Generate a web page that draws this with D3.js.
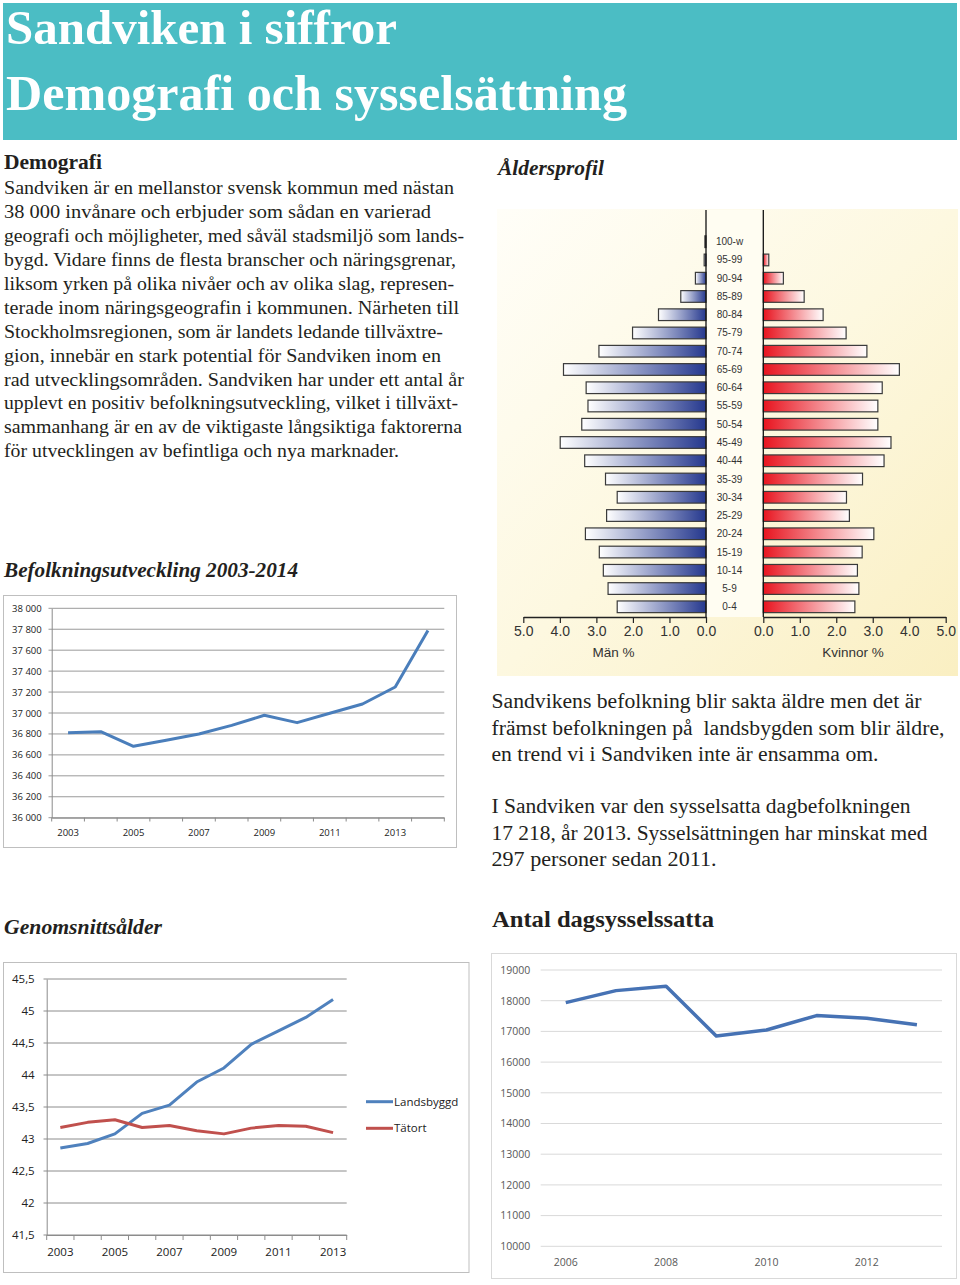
<!DOCTYPE html>
<html><head><meta charset="utf-8">
<script src="https://cdn.jsdelivr.net/npm/d3@7"></script>
<style>body{margin:0;background:#fff}svg{display:block}</style>
</head><body><svg id="c" width="960" height="1285"></svg>
<script>
// ---------- DATA ----------
const ageGroups = ["100-w","95-99","90-94","85-89","80-84","75-79","70-74","65-69","60-64","55-59","50-54","45-49","40-44","35-39","30-34","25-29","20-24","15-19","10-14","5-9","0-4"];
const menPct   = [0.03,0.05,0.29,0.69,1.30,2.01,2.93,3.90,3.28,3.23,3.40,3.99,3.32,2.75,2.43,2.72,3.30,2.92,2.81,2.68,2.43];
const womenPct = [0.00,0.15,0.55,1.12,1.64,2.27,2.84,3.73,3.26,3.14,3.14,3.50,3.31,2.72,2.28,2.36,3.03,2.71,2.58,2.62,2.51];
const pyramidTicks = [0,1,2,3,4,5];

const popYears  = ["2003","2004","2005","2006","2007","2008","2009","2010","2011","2012","2013","2014"];
const popValues = [36812,36822,36682,36740,36799,36882,36978,36908,36997,37086,37248,37787];
const popTicks  = [36000,36200,36400,36600,36800,37000,37200,37400,37600,37800,38000];
const popLabelYears = ["2003","2005","2007","2009","2011","2013"];

const ageYears   = ["2003","2004","2005","2006","2007","2008","2009","2010","2011","2012","2013"];
const landsbyggd = [42.86,42.93,43.08,43.40,43.53,43.89,44.11,44.48,44.69,44.90,45.18];
const tatort     = [43.18,43.26,43.30,43.18,43.21,43.13,43.08,43.17,43.21,43.20,43.10];
const ageTicks   = [41.5,42,42.5,43,43.5,44,44.5,45,45.5];
const ageLabelYears = ["2003","2005","2007","2009","2011","2013"];
const ageSeriesNames = ["Landsbyggd","Tätort"];

const jobYears  = ["2006","2007","2008","2009","2010","2011","2012","2013"];
const jobValues = [17937,18328,18469,16851,17047,17515,17427,17218];
const jobTicks  = [10000,11000,12000,13000,14000,15000,16000,17000,18000,19000];
const jobLabelYears = ["2006","2008","2010","2012"];

const leftParagraph = [
 "Sandviken är en mellanstor svensk kommun med nästan",
 "38 000 invånare och erbjuder som sådan en varierad",
 "geografi och möjligheter, med såväl stadsmiljö som lands-",
 "bygd. Vidare finns de flesta branscher och näringsgrenar,",
 "liksom yrken på olika nivåer och av olika slag, represen-",
 "terade inom näringsgeografin i kommunen. Närheten till",
 "Stockholmsregionen, som är landets ledande tillväxtre-",
 "gion, innebär en stark potential för Sandviken inom en",
 "rad utvecklingsområden. Sandviken har under ett antal år",
 "upplevt en positiv befolkningsutveckling, vilket i tillväxt-",
 "sammanhang är en av de viktigaste långsiktiga faktorerna",
 "för utvecklingen av befintliga och nya marknader."
];
const leftWidths = [450,427,460,452,450,455,439,437,460,454,458,395];
const rightPara1 = ["Sandvikens befolkning blir sakta äldre men det är","främst befolkningen på  landsbygden som blir äldre,","en trend vi i Sandviken inte är ensamma om."];
const rightPara1W = [430,453,387];
const rightPara2 = ["I Sandviken var den sysselsatta dagbefolkningen","17 218, år 2013. Sysselsättningen har minskat med","297 personer sedan 2011."];
const rightPara2W = [419,436,225];

// ---------- SETUP ----------
const svg = d3.select("#c");
const serif = "'Liberation Serif','DejaVu Serif',serif";
const sans = "'Open Sans','Liberation Sans',sans-serif";
const arial = "'Liberation Sans',Arial,sans-serif";
const txtCol = "#231f20";
const sv = d3.formatLocale({decimal:",",thousands:" ",grouping:[3],currency:["","kr"]});

svg.append("rect").attr("width",960).attr("height",1285).attr("fill","#fff");

// Header
svg.append("rect").attr("x",3).attr("y",3).attr("width",954).attr("height",137).attr("fill","#4bbdc4");
svg.append("text").attr("x",6).attr("y",44).attr("font-family",serif).attr("font-weight","bold")
  .attr("font-size",48).attr("fill","#fff").attr("textLength",391).attr("lengthAdjust","spacingAndGlyphs").text("Sandviken i siffror");
svg.append("text").attr("x",6).attr("y",110).attr("font-family",serif).attr("font-weight","bold")
  .attr("font-size",50).attr("fill","#fff").attr("textLength",621).attr("lengthAdjust","spacingAndGlyphs").text("Demografi och sysselsättning");

// Left text
svg.append("text").attr("x",4).attr("y",169).attr("font-family",serif).attr("font-weight","bold")
  .attr("font-size",21).attr("fill",txtCol).attr("textLength",98).attr("lengthAdjust","spacingAndGlyphs").text("Demografi");
svg.append("g").selectAll("text").data(leftParagraph).join("text")
  .attr("x",4).attr("y",(d,i)=>194.3+i*23.9).attr("font-family",serif).attr("font-size",19.5).attr("fill",txtCol)
  .attr("textLength",(d,i)=>leftWidths[i]).attr("lengthAdjust","spacingAndGlyphs").text(d=>d);

// Right text
svg.append("g").selectAll("text").data(rightPara1).join("text")
  .attr("x",491.5).attr("y",(d,i)=>708.3+i*26.2).attr("font-family",serif).attr("font-size",20.5).attr("fill",txtCol)
  .attr("textLength",(d,i)=>rightPara1W[i]).attr("lengthAdjust","spacingAndGlyphs").style("white-space","pre").text(d=>d);
svg.append("g").selectAll("text").data(rightPara2).join("text")
  .attr("x",491.5).attr("y",(d,i)=>813.3+i*26.2).attr("font-family",serif).attr("font-size",20.5).attr("fill",txtCol)
  .attr("textLength",(d,i)=>rightPara2W[i]).attr("lengthAdjust","spacingAndGlyphs").text(d=>d);

// Section titles
function title(x,y,w,t,italic,size){
  svg.append("text").attr("x",x).attr("y",y).attr("font-family",serif).attr("font-weight","bold")
   .attr("font-style",italic?"italic":"normal").attr("font-size",size).attr("fill",txtCol)
   .attr("textLength",w).attr("lengthAdjust","spacingAndGlyphs").text(t);
}
title(498,175,106,"Åldersprofil",true,22);
title(4,577,294,"Befolkningsutveckling 2003-2014",true,21);
title(4,934,158,"Genomsnittsålder",true,21);
title(492,927,222,"Antal dagsysselssatta",false,23.5);

// ---------- PYRAMID ----------
const defs = svg.append("defs");
const bg = defs.append("linearGradient").attr("id","pbg").attr("x1",0).attr("y1",0).attr("x2",1).attr("y2",1);
bg.append("stop").attr("offset",0).attr("stop-color","#fffef8");
bg.append("stop").attr("offset",0.5).attr("stop-color","#fdf8e0");
bg.append("stop").attr("offset",1).attr("stop-color","#faefc2");
const mg = defs.append("linearGradient").attr("id","menG").attr("x1",0).attr("x2",1).attr("y1",0).attr("y2",0);
mg.append("stop").attr("offset",0).attr("stop-color","#ffffff");
mg.append("stop").attr("offset",1).attr("stop-color","#25388e");
const wg = defs.append("linearGradient").attr("id","womG").attr("x1",0).attr("x2",1).attr("y1",0).attr("y2",0);
wg.append("stop").attr("offset",0).attr("stop-color","#e8141f");
wg.append("stop").attr("offset",1).attr("stop-color","#ffffff");

svg.append("rect").attr("x",497).attr("y",209).attr("width",461).attr("height",467).attr("fill","url(#pbg)");
svg.append("rect").attr("x",706).attr("y",210).attr("width",57.3).attr("height",407).attr("fill","#fffdf2");

const xMen = d3.scaleLinear().domain([0,5]).range([706,523.3]);
const xWom = d3.scaleLinear().domain([0,5]).range([763.3,945.7]);
const yAge = d3.scaleBand().domain(ageGroups).range([232.57,615.93]).paddingInner(0.36).paddingOuter(0.18);

const pg = svg.append("g");
pg.selectAll("rect.m").data(ageGroups).join("rect").attr("class","m")
  .attr("x",(d,i)=>xMen(menPct[i])).attr("y",d=>yAge(d))
  .attr("width",(d,i)=>xMen(0)-xMen(menPct[i])).attr("height",yAge.bandwidth())
  .attr("fill","url(#menG)").attr("stroke","#3a3a3a").attr("stroke-width",1.2)
  .attr("display",(d,i)=>menPct[i]>0?null:"none");
pg.selectAll("rect.w").data(ageGroups).join("rect").attr("class","w")
  .attr("x",xWom(0)).attr("y",d=>yAge(d))
  .attr("width",(d,i)=>xWom(womenPct[i])-xWom(0)).attr("height",yAge.bandwidth())
  .attr("fill","url(#womG)").attr("stroke","#3a3a3a").attr("stroke-width",1.2)
  .attr("display",(d,i)=>womenPct[i]>0?null:"none");
pg.selectAll("text.age").data(ageGroups).join("text").attr("class","age")
  .attr("x",729.5).attr("y",d=>yAge(d)+yAge.bandwidth()/2).attr("dy","0.35em")
  .attr("text-anchor","middle").attr("font-family",arial).attr("font-size",10).attr("fill","#333").text(d=>d);

[706,763.3].forEach(x=>pg.append("line").attr("x1",x).attr("x2",x).attr("y1",210).attr("y2",617)
   .attr("stroke","#111").attr("stroke-width",1.3));

function pyrAxis(scale){
  const g = pg.append("g").attr("transform","translate(0,617)")
    .call(d3.axisBottom(scale).tickValues(pyramidTicks).tickFormat(d3.format(".1f")).tickSize(6).tickSizeOuter(0).tickPadding(3));
  g.select(".domain").attr("stroke","#222").attr("stroke-width",1.3);
  g.selectAll(".tick line").attr("stroke","#222").attr("stroke-width",1.2);
  g.selectAll(".tick text").attr("font-family",arial).attr("font-size",14).attr("fill","#333");
}
pyrAxis(xMen); pyrAxis(xWom);
pg.append("text").attr("x",613.5).attr("y",656.5).attr("text-anchor","middle").attr("font-family",arial).attr("font-size",13.5).attr("fill","#333").text("Män %");
pg.append("text").attr("x",853).attr("y",656.5).attr("text-anchor","middle").attr("font-family",arial).attr("font-size",13.5).attr("fill","#333").text("Kvinnor %");

// ---------- BEFOLKNINGSUTVECKLING ----------
{
  const g = svg.append("g");
  g.append("rect").attr("x",3.5).attr("y",595.5).attr("width",453).attr("height",252).attr("fill","#fff").attr("stroke","#bfbfbf");
  const x = d3.scaleBand().domain(popYears).range([51.7,444.3]);
  const y = d3.scaleLinear().domain([36000,38000]).range([817.7,608.3]);
  g.append("g").selectAll("line").data(popTicks).join("line")
    .attr("x1",48.5).attr("x2",444.3).attr("y1",d=>y(d)).attr("y2",d=>y(d)).attr("stroke","#9a9a9a").attr("stroke-width",1);
  const ya = g.append("g").attr("transform","translate(51.7,0)")
    .call(d3.axisLeft(y).tickValues(popTicks).tickFormat(sv.format(",")).tickSize(0).tickPadding(10).tickSizeOuter(0));
  ya.select(".domain").attr("stroke","#8a8a8a");
  ya.selectAll("text").attr("font-family",sans).attr("font-size",9.5).attr("fill","#222");
  const xa = g.append("g").attr("transform","translate(0,817.7)")
    .call(d3.axisBottom(x).tickValues(popLabelYears).tickSize(0).tickPadding(12).tickSizeOuter(0));
  xa.select(".domain").attr("stroke","#8a8a8a");
  xa.selectAll("text").attr("font-family",sans).attr("font-size",9.5).attr("fill","#222");
  g.append("g").selectAll("line").data(popYears.concat(["end"])).join("line")
    .attr("x1",(d,i)=>51.7+i*x.step()).attr("x2",(d,i)=>51.7+i*x.step())
    .attr("y1",817.7).attr("y2",821.5).attr("stroke","#8a8a8a");
  const line = d3.line().x((d,i)=>x(popYears[i])+x.bandwidth()/2).y(d=>y(d));
  g.append("path").datum(popValues).attr("d",line).attr("fill","none").attr("stroke","#4a7ebb").attr("stroke-width",3).attr("stroke-linejoin","round");
}

// ---------- GENOMSNITTSÅLDER ----------
{
  const g = svg.append("g");
  g.append("rect").attr("x",3.5).attr("y",962.5).attr("width",465.5).attr("height",310).attr("fill","#fff").attr("stroke","#bfbfbf");
  const x = d3.scaleBand().domain(ageYears).range([46.7,346.7]);
  const y = d3.scaleLinear().domain([41.5,45.5]).range([1235,979]);
  g.append("g").selectAll("line").data(ageTicks).join("line")
    .attr("x1",43.5).attr("x2",346.7).attr("y1",d=>y(d)).attr("y2",d=>y(d)).attr("stroke","#8c8c8c").attr("stroke-width",1);
  const ya = g.append("g").attr("transform","translate(46.7,0)")
    .call(d3.axisLeft(y).tickValues(ageTicks).tickFormat(d=>sv.format("~g")(d)).tickSize(0).tickPadding(12).tickSizeOuter(0));
  ya.select(".domain").attr("stroke","#8c8c8c");
  ya.selectAll("text").attr("font-family",sans).attr("font-size",11.5).attr("fill","#222");
  const xa = g.append("g").attr("transform","translate(0,1235)")
    .call(d3.axisBottom(x).tickValues(ageLabelYears).tickSize(0).tickPadding(13).tickSizeOuter(0));
  xa.select(".domain").attr("stroke","#8c8c8c");
  xa.selectAll("text").attr("font-family",sans).attr("font-size",11.5).attr("fill","#222");
  g.append("g").selectAll("line").data(ageYears.concat(["end"])).join("line")
    .attr("x1",(d,i)=>46.7+i*x.step()).attr("x2",(d,i)=>46.7+i*x.step())
    .attr("y1",1235).attr("y2",1240).attr("stroke","#8c8c8c");
  const line = d3.line().x((d,i)=>x(ageYears[i])+x.bandwidth()/2).y(d=>y(d));
  const cols = ["#4f81bd","#c0504d"];
  [landsbyggd,tatort].forEach((s,k)=>{
    g.append("path").datum(s).attr("d",line).attr("fill","none").attr("stroke",cols[k]).attr("stroke-width",3).attr("stroke-linejoin","round");
  });
  const lg = g.append("g");
  ageSeriesNames.forEach((n,k)=>{
    const yy = 1101.7 + k*26.6;
    lg.append("line").attr("x1",366).attr("x2",393).attr("y1",yy).attr("y2",yy).attr("stroke",cols[k]).attr("stroke-width",3);
    lg.append("text").attr("x",394).attr("y",yy).attr("dy","0.35em").attr("font-family",sans).attr("font-size",11.5).attr("fill","#222").text(n);
  });
}

// ---------- ANTAL DAGSYSSELSATTA ----------
{
  const g = svg.append("g");
  g.append("rect").attr("x",491.5).attr("y",953.5).attr("width",465).attr("height",325).attr("fill","#fff").attr("stroke","#d9d9d9");
  const x = d3.scaleBand().domain(jobYears).range([540.7,942]);
  const y = d3.scaleLinear().domain([10000,19000]).range([1246.3,970]);
  g.append("g").selectAll("line").data(jobTicks).join("line")
    .attr("x1",540.7).attr("x2",942).attr("y1",d=>y(d)).attr("y2",d=>y(d)).attr("stroke","#d9d9d9").attr("stroke-width",1);
  const ya = g.append("g").attr("transform","translate(540.7,0)")
    .call(d3.axisLeft(y).tickValues(jobTicks).tickFormat(d3.format("d")).tickSize(0).tickPadding(10.5));
  ya.select(".domain").remove();
  ya.selectAll("text").attr("font-family",sans).attr("font-size",10.5).attr("fill","#595959");
  const xa = g.append("g").attr("transform","translate(0,1246.3)")
    .call(d3.axisBottom(x).tickValues(jobLabelYears).tickSize(0).tickPadding(12));
  xa.select(".domain").remove();
  xa.selectAll("text").attr("font-family",sans).attr("font-size",10.5).attr("fill","#595959");
  const line = d3.line().x((d,i)=>x(jobYears[i])+x.bandwidth()/2).y(d=>y(d));
  g.append("path").datum(jobValues).attr("d",line).attr("fill","none").attr("stroke","#4672b4").attr("stroke-width",3.5).attr("stroke-linejoin","round");
}
</script></body></html>
